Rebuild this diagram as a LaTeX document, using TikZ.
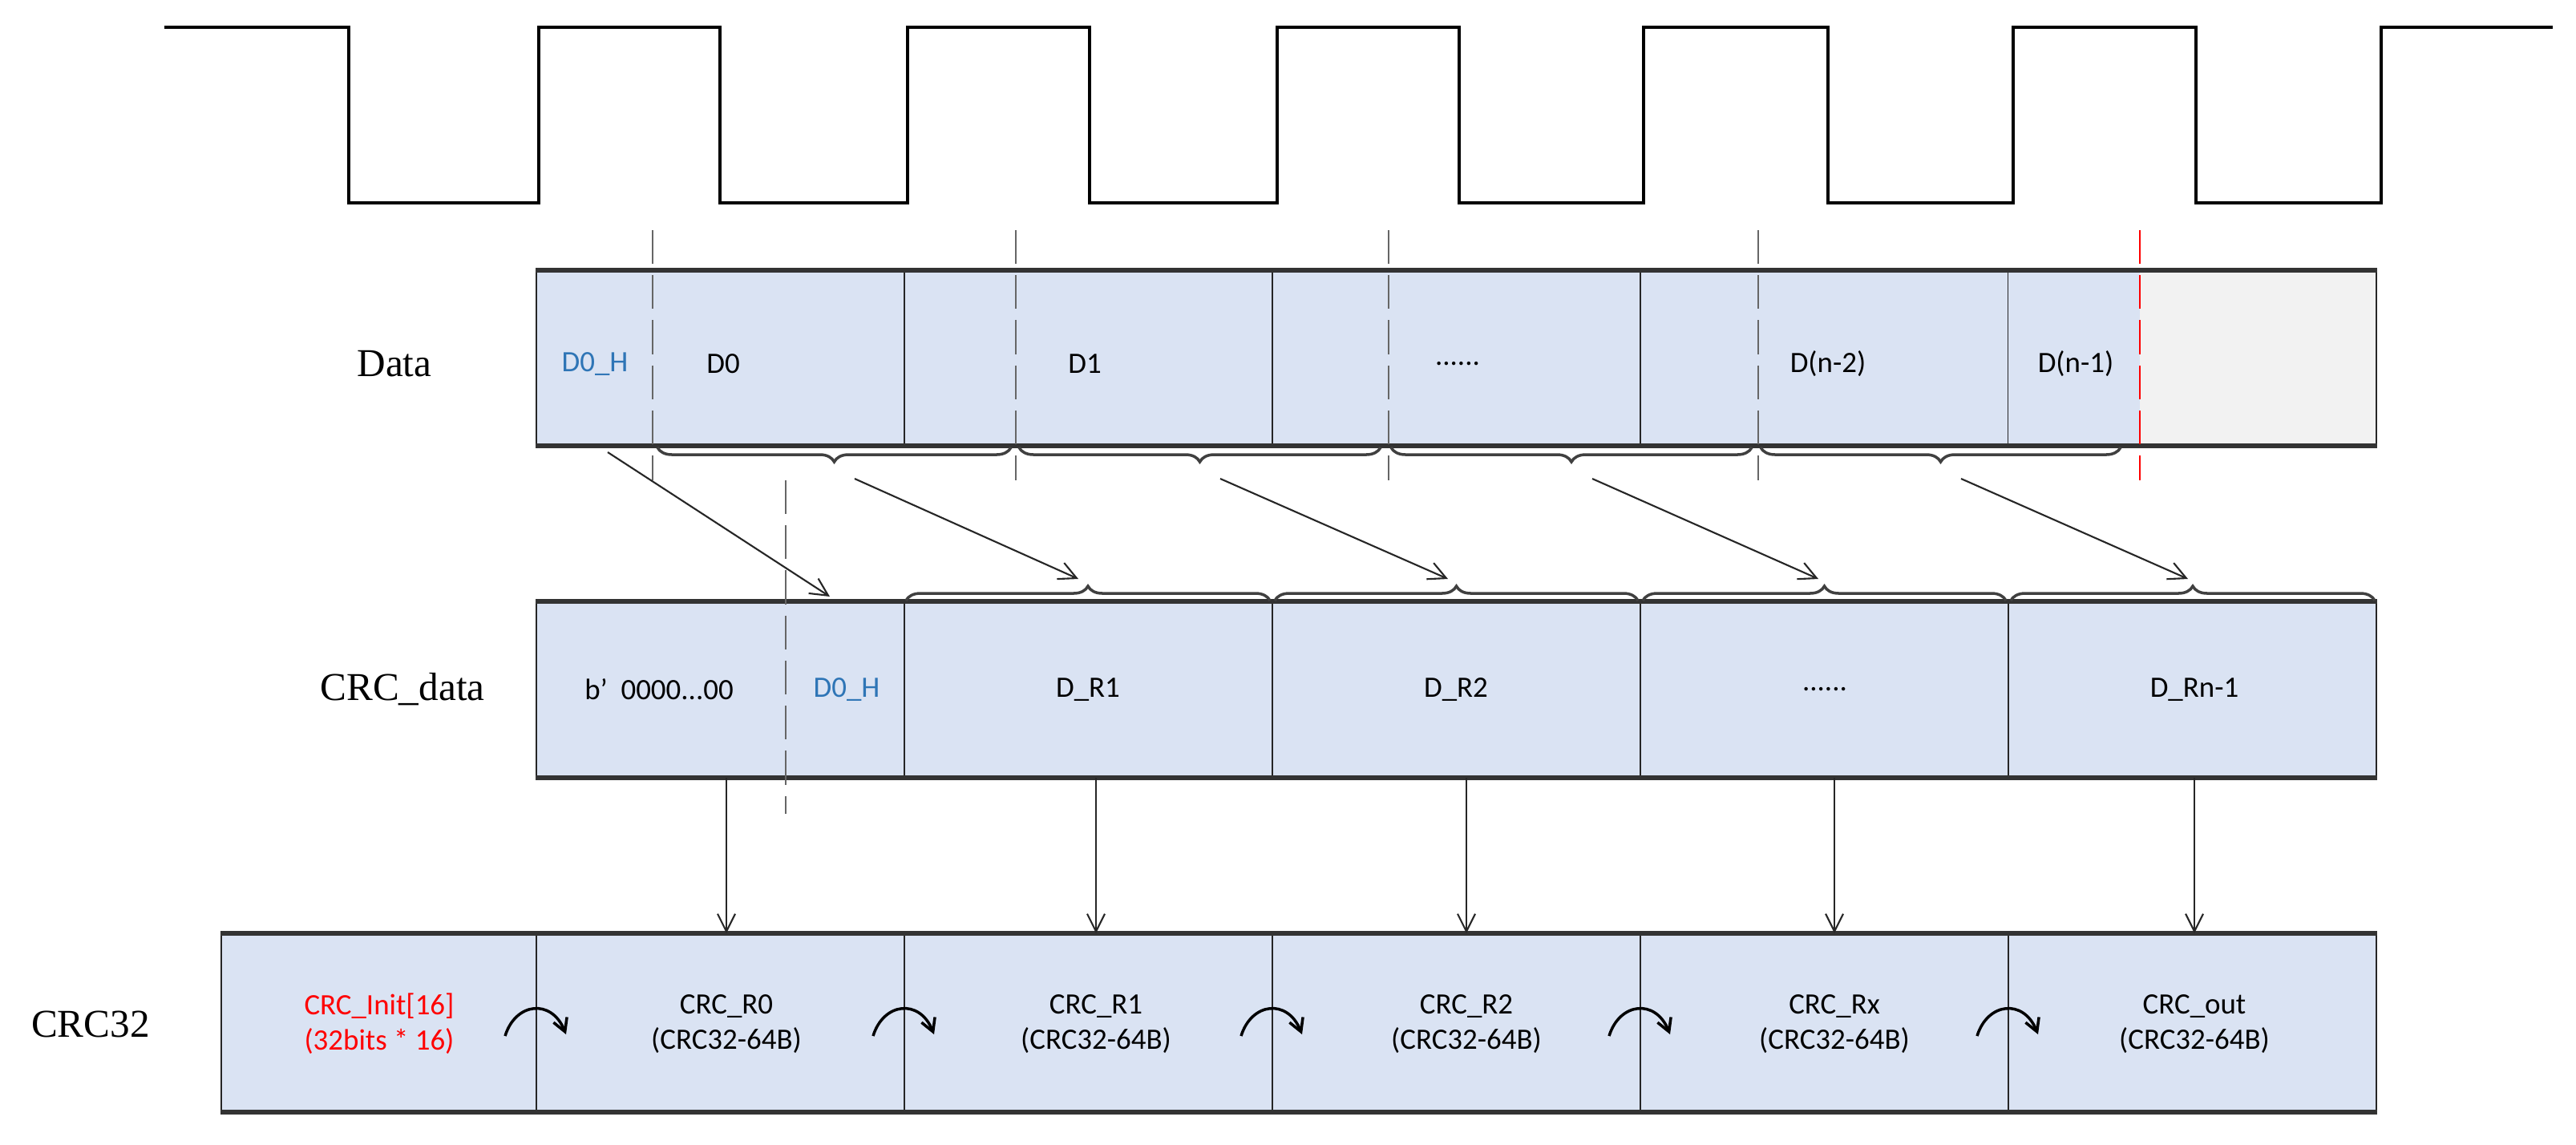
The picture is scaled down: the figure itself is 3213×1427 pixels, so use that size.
\documentclass[tikz,border=0pt]{standalone}
\usepackage{fontspec}
\setmainfont{Carlito}
\newfontfamily\tnr{Liberation Serif}
\usetikzlibrary{arrows.meta,decorations.pathreplacing}
\definecolor{cellblue}{HTML}{DAE3F3}
\definecolor{cellgray}{HTML}{F2F2F2}
\definecolor{txtblue}{HTML}{2E75B6}
\begin{document}
\begin{tikzpicture}[x=0.1mm,y=-0.1mm,
  cell/.style={draw=black!85,line width=0.6pt,fill=cellblue,minimum height=#1,inner sep=0pt,anchor=north west,minimum width=45.9mm},
  edge/.style={draw=black!80,line width=1.5pt},
  lbl/.style={font=\tnr\fontsize{14}{16}\selectfont},
  txt/.style={font=\fontsize{10.5}{12.5}\selectfont,align=center,inner sep=1pt},
  arr/.style={-{Straight Barb[length=2.2mm,width=2.2mm]},line width=0.6pt,draw=black!85},
  guide/.style={dash pattern=on 12pt off 4pt,line width=0.4pt,draw=black!60},
  br/.style={decorate,decoration={brace,amplitude=1.8mm},line width=1pt,draw=black!75},
  curv/.style={-{Straight Barb[length=1.6mm,width=1.8mm]},line width=1pt}]
\useasboundingbox (0,0) rectangle (3213,1427);
% clock
\draw[line width=0.9pt] (205,34) -- (435,34) -- (435,253) -- (672,253) -- (672,34) -- (898,34) -- (898,253)
 -- (1132,253) -- (1132,34) -- (1359,34) -- (1359,253) -- (1593,253) -- (1593,34) -- (1820,34) -- (1820,253)
 -- (2050,253) -- (2050,34) -- (2280,34) -- (2280,253) -- (2511,253) -- (2511,34) -- (2739,34) -- (2739,253)
 -- (2970,253) -- (2970,34) -- (3184,34);
% Data row
\foreach \i/\x in {1/668,2/1127,3/1586,4/2045} \node[cell=21.7mm] (d\i) at (\x,337) {};
\node[cell=21.7mm,fill=cellgray] (d5) at (2504,337) {};
\fill[cellblue] ([xshift=0.3pt,yshift=-0.3pt]d5.north west) rectangle (2669,554);
\draw[edge] (d1.north west) -- (d5.north east);
\draw[edge] (d1.south west) -- (d5.south east);
\node[lbl] (datal) at (492,454) {Data};
\node[txt,text=txtblue] (t0h) at (742,454) {D0\_H};
\node[txt] (t0) at (902,454) {D0};
\node[txt] (t1) at (1353,454) {D1};
\node[txt] (t2) at (1818,454) {......};
\node[txt] (t3) at (2280,454) {D(n-2)};
\node[txt] (t4) at (2589,454) {D(n-1)};
% CRC_data row
\foreach \i/\x in {1/668,2/1127,3/1586,4/2045,5/2504} \node[cell=21.8mm] (c\i) at (\x,750) {};
\draw[edge] (c1.north west) -- (c5.north east);
\draw[edge] (c1.south west) -- (c5.south east);
\node[lbl] (crcdl) at (502,860) {CRC\_data};
\node[txt] (cz) at (822,860) {b'\ \ 0000...00};
\node[txt,text=txtblue] (c0h) at (1056,860) {D0\_H};
\node[txt] (cr1) at (1357,860) {D\_R1};
\node[txt] (cr2) at (1816,860) {D\_R2};
\node[txt] (cr3) at (2276,860) {......};
\node[txt] (cr4) at (2737,860) {D\_Rn-1};
% CRC32 row
\node[cell=22.1mm,minimum width=39.3mm] (k0) at (275,1164) {};
\foreach \i/\x in {1/668,2/1127,3/1586,4/2045,5/2504} \node[cell=22.1mm] (k\i) at (\x,1164) {};
\draw[edge] (k0.north west) -- (k5.north east);
\draw[edge] (k0.south west) -- (k5.south east);
\node[lbl] (crcl) at (113,1277) {CRC32};
\node[txt,text=red] (ki) at (473,1277) {CRC\_Init[16]\\(32bits * 16)};
\node[txt] (kr0) at (906,1277) {CRC\_R0\\(CRC32-64B)};
\node[txt] (kr1) at (1367,1277) {CRC\_R1\\(CRC32-64B)};
\node[txt] (kr2) at (1829,1277) {CRC\_R2\\(CRC32-64B)};
\node[txt] (kr3) at (2288,1277) {CRC\_Rx\\(CRC32-64B)};
\node[txt] (kr4) at (2737,1277) {CRC\_out\\(CRC32-64B)};
% dashed guides
\foreach \x in {814,1267,1732,2193} \draw[guide] (\x,287) -- (\x,599);
\draw[guide,draw=red,line width=0.6pt] (2669,287) -- (2669,599);
\draw[guide] (980,599) -- (980,1015);
% braces under Data
\foreach \a/\b in {820/1261,1271/1722,1735/2185,2196/2645}
  \draw[br] (\b,558) -- (\a,558);
% braces above CRC_data
\foreach \a/\b in {1130/1584,1590/2043,2049/2502,2508/2962}
  \draw[br] (\a,749) -- (\b,749);
% tips
\foreach \n/\x in {1/1040,2/1496,3/1960,4/2420} \coordinate (bt\n) at (\x+26,597);
\foreach \n/\x in {1/1345,2/1806,3/2268,4/2729} \coordinate (ct\n) at (\x,722);
\coordinate (h0) at (758,564);
\coordinate (h1) at (1035,744);
\draw[arr] (h0) -- (h1);
\foreach \n in {1,2,3,4} \draw[arr] (bt\n) -- (ct\n);
% vertical arrows
\draw[arr] (c1.south west -| kr0) -- (k1.north west -| kr0);
\draw[arr] (c2.south west -| kr1) -- (k2.north west -| kr1);
\draw[arr] (c3.south west -| kr2) -- (k3.north west -| kr2);
\draw[arr] (c4.south west -| kr3) -- (k4.north west -| kr3);
\draw[arr] (c5.south west -| kr4) -- (k5.north west -| kr4);
% curved step arrows
\foreach \x in {668,1127,1586,2045,2504}
  \draw[curv] (\x-38,1292) .. controls (\x-25,1250) and (\x+20,1245) .. (\x+38,1290);
\end{tikzpicture}
\end{document}
